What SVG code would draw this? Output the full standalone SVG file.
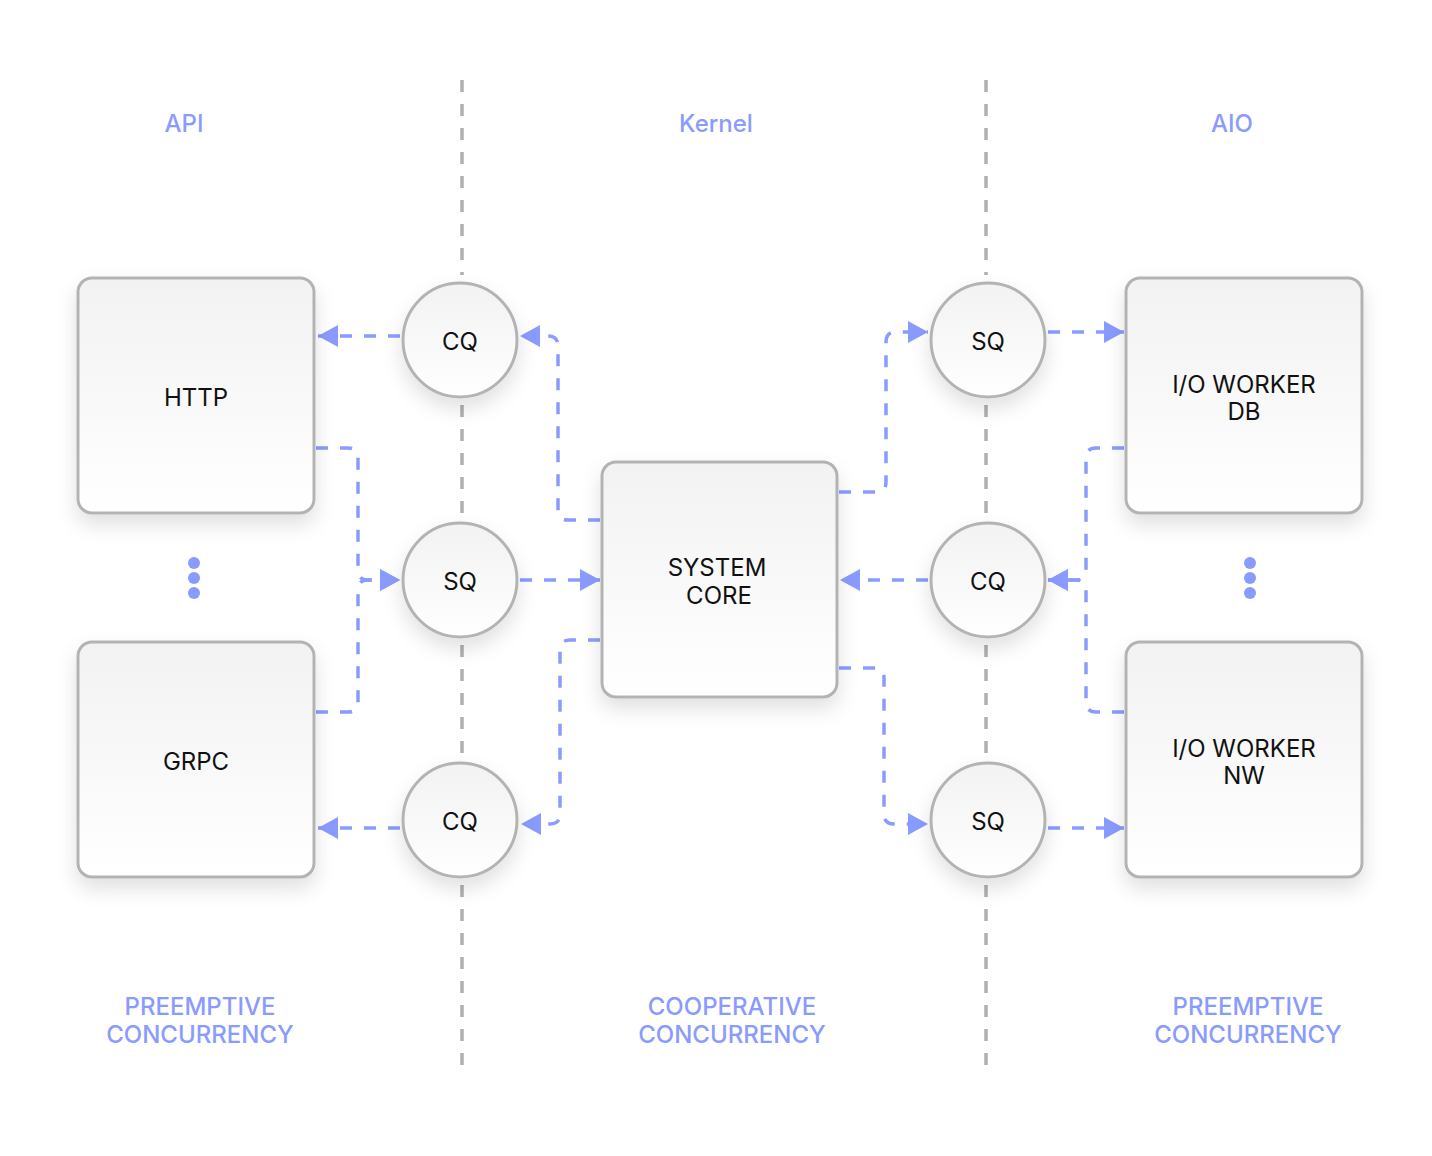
<svg xmlns="http://www.w3.org/2000/svg" width="1432" height="1156" viewBox="0 0 1432 1156">
<style>
.lane{stroke:#b0b0b0;stroke-width:3.5;stroke-dasharray:12 12;fill:none}
.conn{stroke:#8a9bff;stroke-width:3.5;stroke-dasharray:12 12;fill:none}
.box{fill:url(#g);stroke:#b3b3b3;stroke-width:3;filter:url(#sh)}
.node-text{font-family:Inter,"Liberation Sans",sans-serif;font-size:24px;fill:#111;text-anchor:middle}
.label{font-family:Inter,"Liberation Sans",sans-serif;font-size:24px;fill:#8a9bff;text-anchor:middle;font-weight:500}
.dot{fill:#8a9bff}
</style>
<defs>
<linearGradient id="g" x1="0" y1="0" x2="0" y2="1">
<stop offset="0" stop-color="#f2f2f2"/>
<stop offset="1" stop-color="#ffffff"/>
</linearGradient>
<filter id="sh" x="-30%" y="-30%" width="160%" height="170%">
<feDropShadow dx="0" dy="10" stdDeviation="10" flood-color="#000" flood-opacity="0.12"/>
</filter>
<marker id="arr" markerUnits="userSpaceOnUse" markerWidth="22" markerHeight="24" refX="20" refY="11" orient="auto">
<path d="M0,0 L20,11 L0,22 z" fill="#8a9bff"/>
</marker>
</defs>
<rect width="1432" height="1156" fill="#fff"/>
<g id="lanes">
<path class="lane" d="M462,80 V275 M462,405 V515 M462,645 V755 M462,885 V1076"/>
<path class="lane" d="M986,80 V275 M986,405 V515 M986,645 V755 M986,885 V1076"/>
</g>
<g id="labels">
<text class="label" x="184" y="132">API</text>
<text class="label" x="716" y="132">Kernel</text>
<text class="label" x="1232" y="132">AIO</text>
<text class="label" x="200" y="1015">PREEMPTIVE</text>
<text class="label" x="200" y="1043">CONCURRENCY</text>
<text class="label" x="732" y="1015">COOPERATIVE</text>
<text class="label" x="732" y="1043">CONCURRENCY</text>
<text class="label" x="1248" y="1015">PREEMPTIVE</text>
<text class="label" x="1248" y="1043">CONCURRENCY</text>
</g>
<g id="connectors">
<path class="conn" d="M400,336 H318" marker-end="url(#arr)"/>
<path class="conn" d="M600,520 H568 Q558,520 558,510 V346 Q558,336 548,336 H520" marker-end="url(#arr)"/>
<path class="conn" d="M316,448 H348 Q358,448 358,458 V570 Q358,580 368,580 H400" marker-end="url(#arr)"/>
<path class="conn" d="M316,712 H348 Q358,712 358,702 V590 Q358,580 368,580 H400" marker-end="url(#arr)"/>
<path class="conn" d="M520,580 H600" marker-end="url(#arr)"/>
<path class="conn" d="M600,640 H570 Q560,640 560,650 V814 Q560,824 550,824 H521" marker-end="url(#arr)"/>
<path class="conn" d="M400,828 H318" marker-end="url(#arr)"/>
<path class="conn" d="M839,492 H876 Q886,492 886,482 V342 Q886,332 896,332 H928" marker-end="url(#arr)"/>
<path class="conn" d="M1048,332 H1124" marker-end="url(#arr)"/>
<path class="conn" d="M1124,448 H1096 Q1086,448 1086,458 V570 Q1086,580 1076,580 H1048" marker-end="url(#arr)"/>
<path class="conn" d="M1124,712 H1096 Q1086,712 1086,702 V590 Q1086,580 1076,580 H1048" marker-end="url(#arr)"/>
<path class="conn" d="M928,580 H840" marker-end="url(#arr)"/>
<path class="conn" d="M839,668 H874 Q884,668 884,678 V814 Q884,824 894,824 H928" marker-end="url(#arr)"/>
<path class="conn" d="M1048,828 H1124" marker-end="url(#arr)"/>
</g>
<g id="http"><rect class="box" x="78" y="278" width="236" height="235" rx="14"/><text class="node-text" x="196" y="406">HTTP</text></g>
<g id="grpc"><rect class="box" x="78" y="642" width="236" height="235" rx="14"/><text class="node-text" x="196" y="770">GRPC</text></g>
<g id="core"><rect class="box" x="602" y="462" width="235" height="235" rx="14"/><text class="node-text" x="717" y="576">SYSTEM</text><text class="node-text" x="719" y="604">CORE</text></g>
<g id="io-db"><rect class="box" x="1126" y="278" width="236" height="235" rx="14"/><text class="node-text" x="1244" y="393">I/O WORKER</text><text class="node-text" x="1244" y="420">DB</text></g>
<g id="io-nw"><rect class="box" x="1126" y="642" width="236" height="235" rx="14"/><text class="node-text" x="1244" y="757">I/O WORKER</text><text class="node-text" x="1244" y="784">NW</text></g>
<g id="cq-top"><circle class="box" cx="460" cy="340" r="57"/><text class="node-text" x="460" y="350">CQ</text></g>
<g id="sq-mid"><circle class="box" cx="460" cy="580" r="57"/><text class="node-text" x="460" y="590">SQ</text></g>
<g id="cq-bot"><circle class="box" cx="460" cy="820" r="57"/><text class="node-text" x="460" y="830">CQ</text></g>
<g id="sq-top-r"><circle class="box" cx="988" cy="340" r="57"/><text class="node-text" x="988" y="350">SQ</text></g>
<g id="cq-mid-r"><circle class="box" cx="988" cy="580" r="57"/><text class="node-text" x="988" y="590">CQ</text></g>
<g id="sq-bot-r"><circle class="box" cx="988" cy="820" r="57"/><text class="node-text" x="988" y="830">SQ</text></g>
<g id="dots-left"><circle class="dot" cx="194" cy="563" r="6"/><circle class="dot" cx="194" cy="578" r="6"/><circle class="dot" cx="194" cy="593" r="6"/></g>
<g id="dots-right"><circle class="dot" cx="1250" cy="563" r="6"/><circle class="dot" cx="1250" cy="578" r="6"/><circle class="dot" cx="1250" cy="593" r="6"/></g>
</svg>
